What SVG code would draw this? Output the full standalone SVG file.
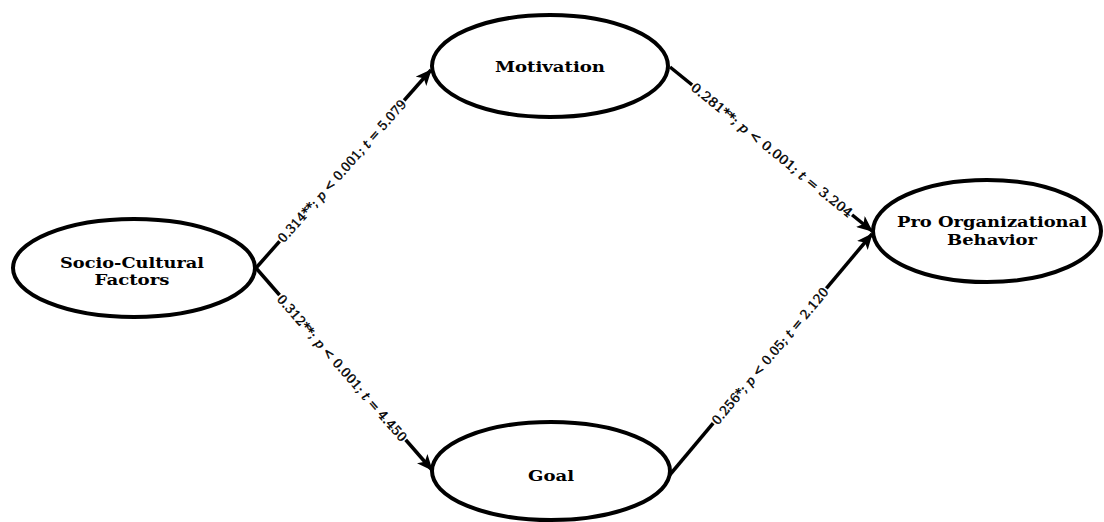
<svg xmlns="http://www.w3.org/2000/svg" width="1104" height="522" viewBox="0 0 1104 522">
<style>
.node ellipse{fill:#fff;stroke:#000;stroke-width:4}
.node text{font-family:"DejaVu Serif","Liberation Serif",serif;font-weight:bold;font-size:14.5px;text-anchor:middle;fill:#000}
.edge line{stroke:#000;stroke-width:3.5}
.lbl text{font-family:"DejaVu Serif","Liberation Serif",serif;font-size:12.5px;text-anchor:middle;dominant-baseline:central;fill:#000;stroke:#000;stroke-width:0.4}
.lbl rect{fill:#fff}
</style>
<defs>
<marker id="arr" markerUnits="userSpaceOnUse" markerWidth="16" markerHeight="14" refX="15" refY="7" orient="auto">
<path d="M0,0 L16,7 L0,14 L4,7 z" fill="#000"/>
</marker>
</defs>
<rect width="1104" height="522" fill="#fff"/>
<g id="connectors" class="edge">
<line x1="256" y1="268" x2="431" y2="70" marker-end="url(#arr)"/>
<line x1="256" y1="268" x2="432" y2="470" marker-end="url(#arr)"/>
<line x1="670" y1="67" x2="872" y2="231" marker-end="url(#arr)"/>
<line x1="668" y1="477" x2="872" y2="234" marker-end="url(#arr)"/>
<g class="lbl" transform="translate(342,171) rotate(-48.4)">
<rect x="-94" y="-7" width="188" height="14"/>
<text x="0" y="0" textLength="186" lengthAdjust="spacingAndGlyphs">0.314**; <tspan font-style="italic">p</tspan> &lt; 0.001; <tspan font-style="italic">t</tspan> = 5.079</text>
</g>
<g class="lbl" transform="translate(342,368) rotate(48.9)">
<rect x="-96" y="-7" width="192" height="14"/>
<text x="0" y="0" textLength="190" lengthAdjust="spacingAndGlyphs">0.312**; <tspan font-style="italic">p</tspan> &lt; 0.001; <tspan font-style="italic">t</tspan> = 4.450</text>
</g>
<g class="lbl" transform="translate(772,150) rotate(39.2)">
<rect x="-103" y="-7" width="206" height="14"/>
<text x="0" y="0" textLength="204" lengthAdjust="spacingAndGlyphs">0.281**; <tspan font-style="italic">p</tspan> &lt; 0.001; <tspan font-style="italic">t</tspan> = 3.204</text>
</g>
<g class="lbl" transform="translate(770,356) rotate(-50.1)">
<rect x="-88" y="-7" width="176" height="14"/>
<text x="0" y="0" textLength="174" lengthAdjust="spacingAndGlyphs">0.256*; <tspan font-style="italic">p</tspan> &lt; 0.05; <tspan font-style="italic">t</tspan> = 2.120</text>
</g>
</g>
<g id="socio" class="node">
<ellipse cx="134" cy="268" rx="121" ry="49"/>
<text x="132" y="268" textLength="144" lengthAdjust="spacingAndGlyphs">Socio-Cultural</text>
<text x="132" y="285" textLength="75" lengthAdjust="spacingAndGlyphs">Factors</text>
</g>
<g id="motivation" class="node">
<ellipse cx="550" cy="66" rx="118" ry="51"/>
<text x="550" y="72" textLength="110" lengthAdjust="spacingAndGlyphs">Motivation</text>
</g>
<g id="goal" class="node">
<ellipse cx="551" cy="471" rx="119" ry="49"/>
<text x="551" y="481" textLength="46" lengthAdjust="spacingAndGlyphs">Goal</text>
</g>
<g id="pro" class="node">
<ellipse cx="987" cy="231" rx="114" ry="51"/>
<text x="992" y="227" textLength="190" lengthAdjust="spacingAndGlyphs">Pro Organizational</text>
<text x="992" y="245" textLength="90" lengthAdjust="spacingAndGlyphs">Behavior</text>
</g>
</svg>
